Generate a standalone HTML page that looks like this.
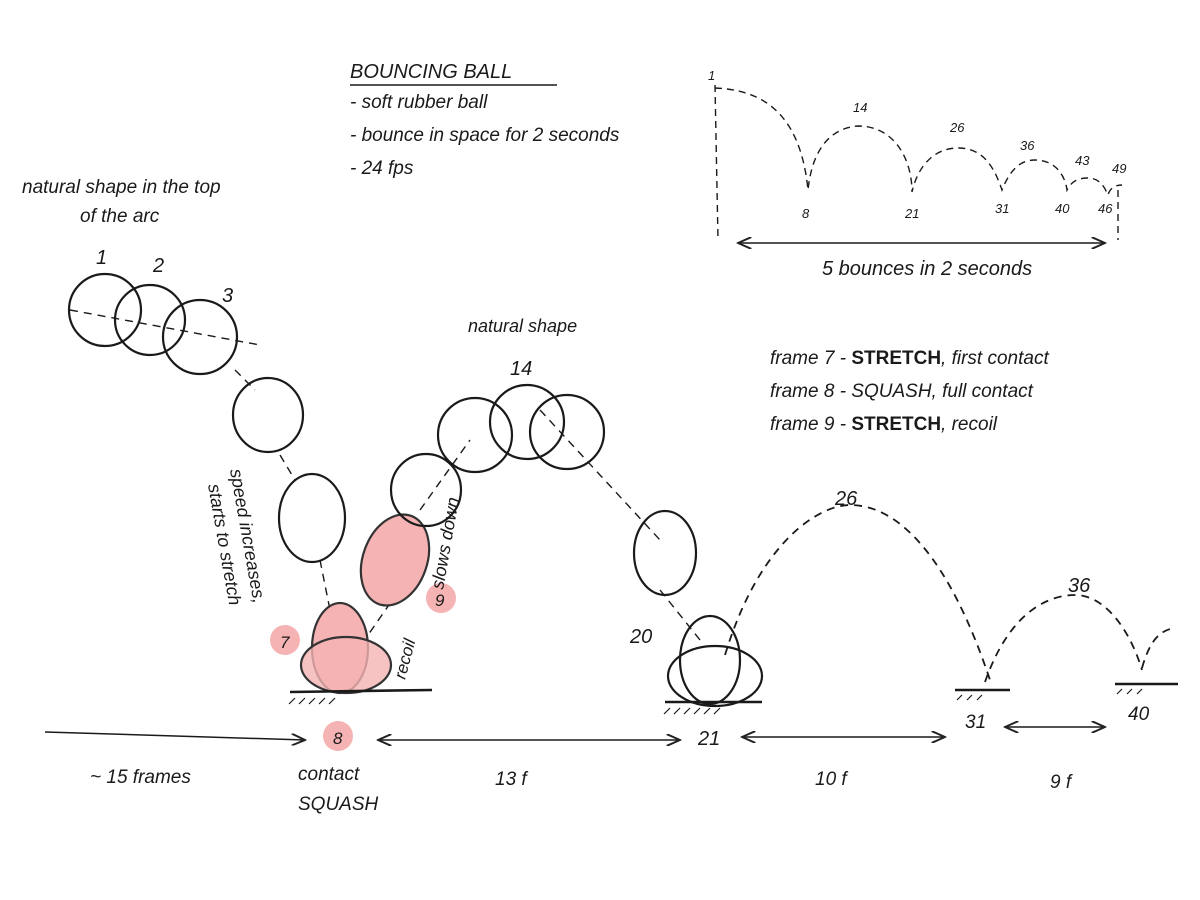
<!DOCTYPE html>
<html><head><meta charset="utf-8"><style>
html,body{margin:0;padding:0;background:#fff;}
svg{display:block}
text{font-family:"Liberation Sans",sans-serif;font-style:italic;fill:#1a1a1a;}
</style></head><body>
<svg width="1200" height="900" viewBox="0 0 1200 900" xmlns="http://www.w3.org/2000/svg">
<defs>
<marker id="a" markerWidth="10" markerHeight="8" refX="9" refY="4" orient="auto-start-reverse"><path d="M0,0 L9,4 L0,8" fill="none" stroke="#222" stroke-width="1.3"/></marker>
</defs>
<g fill="none" stroke="#1a1a1a" stroke-width="2.2">
<path d="M715,88 C760,90 800,110 808,190 C812,150 830,128 858,126 C895,126 912,160 912,192 C918,165 935,148 958,148 C985,148 995,170 1002,190 C1010,170 1020,160 1035,160 C1055,160 1065,175 1067,190 C1072,180 1080,178 1088,178 C1100,178 1105,188 1108,195 C1110,188 1115,185 1122,185" stroke-dasharray="7,5" stroke-width="1.4"/>
<path d="M715,85 L718,240" stroke-dasharray="7,5" stroke-width="1.4"/>
<path d="M1118,190 L1118,240" stroke-dasharray="7,5" stroke-width="1.4"/>
<path d="M738,243 L1105,243" marker-start="url(#a)" marker-end="url(#a)" stroke-width="1.5"/>
<path d="M70,310 L260,345 M235,370 L255,390 M280,455 L295,480 M320,560 L330,610 M330,690 L420,560 M420,510 L470,440 M540,410 L660,540 M660,590 L700,640" stroke-dasharray="8,6" stroke-width="1.4"/>
<path d="M725,655 C760,540 820,505 850,505 C900,505 950,560 990,680" stroke-dasharray="8,6" stroke-width="1.8"/>
<path d="M985,682 C1010,610 1050,595 1075,595 C1105,595 1130,630 1142,670" stroke-dasharray="8,6" stroke-width="1.8"/>
<path d="M1142,668 C1150,640 1160,630 1175,628" stroke-dasharray="8,6" stroke-width="1.8"/>
<ellipse cx="340" cy="648" rx="28" ry="45" fill="#f5b3b3" stroke="#333"/>
<ellipse cx="346" cy="665" rx="45" ry="28" fill="#f5b3b3" fill-opacity="0.8" stroke="#333"/>
<ellipse cx="395" cy="560" rx="32" ry="47" transform="rotate(20 395 560)" fill="#f5b3b3" stroke="#333"/>
<circle cx="285" cy="640" r="15" fill="#f5b3b3" stroke="none"/>
<circle cx="441" cy="598" r="15" fill="#f5b3b3" stroke="none"/>
<circle cx="338" cy="736" r="15" fill="#f5b3b3" stroke="none"/>
<circle cx="105" cy="310" r="36"/>
<circle cx="150" cy="320" r="35"/>
<circle cx="200" cy="337" r="37"/>
<ellipse cx="268" cy="415" rx="35" ry="37"/>
<ellipse cx="312" cy="518" rx="33" ry="44"/>
<ellipse cx="426" cy="490" rx="35" ry="36"/>
<circle cx="475" cy="435" r="37"/>
<circle cx="527" cy="422" r="37"/>
<circle cx="567" cy="432" r="37"/>
<ellipse cx="665" cy="553" rx="31" ry="42"/>
<ellipse cx="710" cy="660" rx="30" ry="44"/>
<ellipse cx="715" cy="676" rx="47" ry="30"/>
<path d="M290,692 L432,690 M665,702 L762,702 M955,690 L1010,690 M1115,684 L1178,684" stroke-width="2.6"/>
<path d="M295,698 l-6,6 M305,698 l-6,6 M315,698 l-6,6 M325,698 l-6,6 M335,698 l-6,6 M670,708 l-6,6 M680,708 l-6,6 M690,708 l-6,6 M700,708 l-6,6 M710,708 l-6,6 M720,708 l-6,6 M962,695 l-5,5 M972,695 l-5,5 M982,695 l-5,5 M1122,689 l-5,5 M1132,689 l-5,5 M1142,689 l-5,5" stroke-width="1.2"/>
<path d="M45,732 L305,740" marker-end="url(#a)" stroke-width="1.5"/>
<path d="M378,740 L680,740" marker-start="url(#a)" marker-end="url(#a)" stroke-width="1.5"/>
<path d="M742,737 L945,737" marker-start="url(#a)" marker-end="url(#a)" stroke-width="1.5"/>
<path d="M1005,727 L1105,727" marker-start="url(#a)" marker-end="url(#a)" stroke-width="1.5"/>
<path d="M350,85 L557,85" stroke-width="1.4"/>
</g>
<g font-size="13">
<text x="708" y="80">1</text><text x="853" y="112">14</text><text x="950" y="132">26</text>
<text x="1020" y="150">36</text><text x="1075" y="165">43</text><text x="1112" y="173">49</text>
<text x="802" y="218">8</text><text x="905" y="218">21</text><text x="995" y="213">31</text>
<text x="1055" y="213">40</text><text x="1098" y="213">46</text>
</g>
<text x="822" y="275" font-size="20">5 bounces in 2 seconds</text>
<text x="350" y="78" font-size="20">BOUNCING BALL</text>
<text x="350" y="108" font-size="19">- soft rubber ball</text>
<text x="350" y="141" font-size="19">- bounce in space for 2 seconds</text>
<text x="350" y="174" font-size="19">- 24 fps</text>
<text x="22" y="193" font-size="19">natural shape in the top</text>
<text x="80" y="222" font-size="19">of the arc</text>
<text x="96" y="264" font-size="20">1</text><text x="153" y="272" font-size="20">2</text><text x="222" y="302" font-size="20">3</text>
<text x="468" y="332" font-size="18">natural shape</text>
<text x="510" y="375" font-size="20">14</text>
<text x="770" y="364" font-size="19">frame 7 - <tspan font-weight="bold" font-style="normal">STRETCH</tspan>, first contact</text>
<text x="770" y="397" font-size="19">frame 8 - SQUASH, full contact</text>
<text x="770" y="430" font-size="19">frame 9 - <tspan font-weight="bold" font-style="normal">STRETCH</tspan>, recoil</text>
<text font-size="18" transform="translate(230,470) rotate(80)">speed increases,</text>
<text font-size="18" transform="translate(208,485) rotate(80)">starts to stretch</text>
<text font-size="18" transform="translate(443,590) rotate(-80)">slows down</text>
<text font-size="17" transform="translate(405,680) rotate(-75)">recoil</text>
<text x="280" y="648" font-size="17">7</text><text x="435" y="606" font-size="17">9</text><text x="333" y="744" font-size="17">8</text>
<text x="630" y="643" font-size="20">20</text>
<text x="835" y="505" font-size="20">26</text>
<text x="1068" y="592" font-size="20">36</text>
<text x="90" y="783" font-size="19">~ 15 frames</text>
<text x="298" y="780" font-size="19">contact</text>
<text x="298" y="810" font-size="19">SQUASH</text>
<text x="495" y="785" font-size="19">13 f</text>
<text x="698" y="745" font-size="20">21</text>
<text x="815" y="785" font-size="19">10 f</text>
<text x="965" y="728" font-size="19">31</text>
<text x="1050" y="788" font-size="19">9 f</text>
<text x="1128" y="720" font-size="19">40</text>
</svg>
</body></html>
